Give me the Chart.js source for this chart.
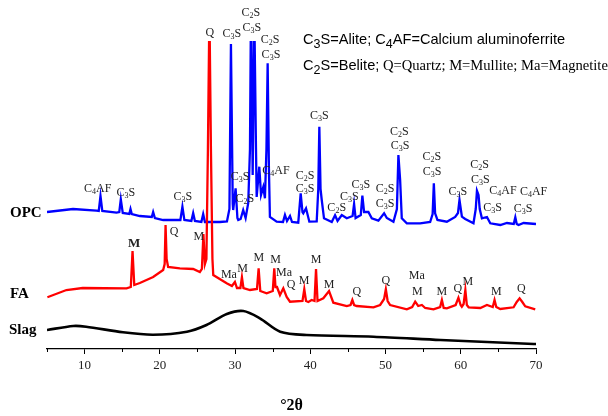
<!DOCTYPE html>
<html>
<head>
<meta charset="utf-8">
<script src="https://cdn.jsdelivr.net/npm/chart.js@4.4.0/dist/chart.umd.min.js"></script>
<style>
  body { margin: 0; background: #fff; }
  canvas { display: block; }
</style>
</head>
<body>
<canvas id="xrd" width="608" height="416"></canvas>
<script>
// 2theta positions (deg) and offset intensities
const opcX = [5.0, 8.46, 11.57, 11.88, 12.11, 12.35, 14.24, 14.61, 14.81, 15.07, 15.94, 16.1, 16.27, 17.34, 18.93, 19.11, 19.34, 20.44,
  22.73, 23.0, 23.26, 24.19, 24.43, 24.66, 25.52, 25.76, 25.99, 26.21, 27.98, 28.92, 29.25, 29.45, 29.69, 29.75, 30.07, 30.31, 30.42,
  30.74, 31.08, 31.4, 31.75, 31.98, 32.11, 32.34, 32.55, 32.78, 32.87, 33.22, 33.45, 33.75, 33.97, 34.17, 34.33, 34.5, 34.63, 35.53,
  36.37, 36.63, 36.9, 37.3, 37.57, 38.4, 38.72, 38.96, 39.07, 39.43, 39.87, 40.85, 41.06, 41.2, 41.36, 41.52, 41.82, 42.85, 43.29,
  43.62, 44.18, 44.85, 45.62, 45.82, 46.02, 46.71, 46.92, 47.15, 47.72, 48.17, 49.05, 49.81, 50.17, 51.05, 51.51, 51.71, 51.94,
  52.16, 52.83, 54.6, 55.93, 56.26, 56.42, 56.59, 56.9, 58.15, 59.26, 59.63, 59.83, 60.15, 60.59, 61.69, 61.99, 62.15, 62.36, 62.52,
  62.81, 63.48, 63.92, 65.25, 66.14, 67.04, 67.25, 67.44, 67.68, 68.35, 70.0];
const opcY = [137, 140, 138.3, 138, 153, 138, 136.3, 137, 149.7, 136, 135, 140, 135, 133, 132, 137, 131, 129,
  129, 142.3, 129, 128, 136, 128, 127, 135, 127, 127, 127, 127.5, 140, 305, 145, 139, 160.7, 131, 129,
  130, 139, 131, 146, 200, 340, 174, 340, 200, 152, 182.3, 154, 162, 150.7, 200, 285.7, 180, 132, 127.3,
  127, 134, 128, 133, 127, 126.3, 155.7, 137, 135.7, 140.7, 127.3, 127.5, 160, 222.3, 160, 149, 130.7, 127, 133.7,
  128, 134, 130.7, 133, 145, 131, 134, 153.3, 137, 137, 130.7, 128.3, 135.7, 131, 127.3, 140, 194, 169,
  130.7, 125.7, 125.7, 127, 135, 165.7, 135.7, 129, 127.3, 132, 136, 149, 132.3, 130, 125.7, 140, 158.3, 154, 140,
  130.7, 132, 125.7, 124, 126, 125, 131.7, 125, 124, 126, 125];

const faX = [5.05, 7.58, 9.75, 15.57, 16.14, 16.37, 16.6, 17.34, 19.11, 20.44, 20.64, 20.76, 20.9, 21.1, 22.66, 24.43, 25.32, 25.59,
  25.79, 25.99, 26.19, 26.39, 26.59, 26.79, 26.99, 27.1, 28.88, 29.58, 29.98, 30.25, 30.71, 30.91, 31.11, 31.98, 32.91, 33.13, 33.35,
  34.2, 35.01, 35.21, 35.37, 35.57, 35.97, 36.41, 36.86, 37.3, 38.96, 39.2, 39.43, 39.74, 40.18, 40.56, 40.76, 40.96, 41.73, 42.49,
  43.06, 44.85, 45.35, 45.59, 45.82, 46.17, 48.39, 49.28, 49.81, 50.04, 50.28, 50.61, 52.83, 53.54, 53.94, 54.34, 54.83, 55.27,
  56.37, 57.26, 57.49, 57.73, 58.15, 59.32, 59.69, 59.98, 60.14, 60.38, 60.61, 60.81, 61.05, 62.6, 63.48, 64.25, 64.49, 64.72,
  65.25, 67.02, 67.44, 67.82, 68.18, 68.57, 69.9];
const faY = [51.7, 59, 61, 60.7, 62, 98, 64, 66, 72, 79, 85, 124, 90, 82, 80.7, 80, 77, 80,
  115, 85, 90, 200, 340, 200, 90, 74, 65.7, 63, 67, 61, 61, 71.7, 61, 59, 60, 80.7, 58,
  55.7, 58, 80.7, 62, 62, 54, 60.7, 52, 47.3, 48, 59.7, 48, 47, 49, 48, 80, 48, 50.7, 58,
  46.3, 43, 44, 49, 44, 43, 41.7, 44, 50, 59.7, 48, 44, 39.7, 42, 47.3, 43, 44, 41,
  39.7, 42, 49, 41, 40.7, 44, 51.3, 44, 42.3, 45, 59, 44, 41.7, 41, 44, 42, 49, 42,
  40, 41.7, 47, 50.7, 47, 42.7, 39.7];

const slagX = [5.0, 8.5, 10.2, 15.1, 19.1, 23.6, 26.2, 28.9, 31.1, 33.3, 36.0, 39.5, 48.4, 57.3, 69.7, 70.0];
const slagY = [19, 23, 22.3, 16.7, 14.3, 17.3, 24, 35, 38, 30.7, 17.3, 14, 12.3, 9, 5, 5];

// peak labels: text, 2theta, height
const opcLabels = ['Q', 'C3S', 'C2S', 'C3S', 'C2S', 'C3S', 'C3S', 'C2S', 'C4AF', 'C4AF', 'C3S', 'C3S', 'C2S', 'C3S', 'C3S',
  'C2S', 'C3S', 'C3S', 'C2S', 'C3S', 'C2S', 'C3S', 'C2S', 'C3S', 'C3S', 'C2S', 'C3S', 'C4AF', 'C3S', 'C4AF', 'C3S'];
const opcLabelX = [26.65, 29.58, 32.11, 32.24, 34.64, 34.77, 30.65, 31.31, 35.44, 11.75, 15.48, 23.06, 39.3, 39.3, 41.2,
  43.51, 45.19, 46.71, 49.94, 49.94, 51.85, 51.94, 56.16, 56.2, 59.62, 62.49, 62.59, 65.61, 64.22, 69.68, 68.27];
const opcLabelY = [316, 315, 336, 321, 309, 294, 172, 150, 178, 160, 156, 152, 173.3, 160, 233.3,
  141.3, 152.3, 164, 159.7, 145, 217.3, 203, 192.3, 177, 157.3, 184, 169, 158.3, 140.7, 156.7, 139.7];

const faLabels = ['M', 'Q', 'M', 'Ma', 'M', 'M', 'M', 'Ma', 'Q', 'M', 'M', 'M', 'Q', 'Q', 'Ma', 'M', 'M', 'Q', 'M', 'M', 'Q'];
const faLabelX = [16.58, 21.9, 25.19, 29.18, 31.0, 33.17, 35.4, 36.5, 37.43, 39.16, 40.76, 42.49, 46.18, 50.04, 54.16,
  54.24, 57.49, 59.62, 60.95, 64.72, 68.05];
const faLabelY = [105.7, 116.7, 112.3, 74, 79.7, 90.7, 89, 76.3, 63.7, 68, 89, 64, 56.7, 68.3, 73, 56.7, 56.7, 59.7, 66.7, 56.7, 59.7];

const seriesNames = ['OPC', 'FA', 'Slag'];

function pts(xs, ys) {
  return xs.map((x, i) => ({ x: x, y: ys[i] }));
}

// text where digits are drawn as subscripts
function richWidth(ctx, text, font, subFont) {
  let w = 0;
  for (const ch of text) {
    ctx.font = /[0-9]/.test(ch) ? subFont : font;
    w += ctx.measureText(ch).width;
  }
  return w;
}
function drawRich(ctx, text, x, y, font, subFont, subShift, align) {
  let cx = align === 'center' ? x - richWidth(ctx, text, font, subFont) / 2 : x;
  ctx.textAlign = 'left';
  ctx.textBaseline = 'middle';
  for (const ch of text) {
    const sub = /[0-9]/.test(ch);
    ctx.font = sub ? subFont : font;
    ctx.fillText(ch, cx, sub ? y + subShift : y);
    cx += ctx.measureText(ch).width;
  }
  return cx;
}

const annotate = {
  id: 'annotate',
  afterDraw(chart) {
    const ctx = chart.ctx;
    const xs = chart.scales.x, ys = chart.scales.y;
    ctx.save();

    // minor ticks
    ctx.strokeStyle = '#000';
    ctx.lineWidth = 1;
    for (let v = 5; v < 70; v += 10) {
      const px = Math.round(xs.getPixelForValue(v)) + 0.5;
      ctx.beginPath();
      ctx.moveTo(px, ys.bottom);
      ctx.lineTo(px, ys.bottom + 3);
      ctx.stroke();
    }

    ctx.fillStyle = '#222';
    const f = '12px "Liberation Serif"', sf = '8px "Liberation Serif"';
    opcLabels.forEach((t, i) => {
      drawRich(ctx, t, xs.getPixelForValue(opcLabelX[i]), ys.getPixelForValue(opcLabelY[i]), f, sf, 3, 'center');
    });
    faLabels.forEach((t, i) => {
      const fnt = i === 0 ? 'bold 13px "Liberation Serif"' : f;
      drawRich(ctx, t, xs.getPixelForValue(faLabelX[i]), ys.getPixelForValue(faLabelY[i]), fnt, sf, 3, 'center');
    });

    // series names
    ctx.fillStyle = '#000';
    ctx.font = 'bold 15px "Liberation Serif"';
    ctx.textAlign = 'left';
    ctx.textBaseline = 'middle';
    ctx.fillText(seriesNames[0], 10, 213);
    ctx.fillText(seriesNames[1], 10, 294);
    ctx.fillText(seriesNames[2], 9, 330);

    // key
    const sans = '14.6px "Liberation Sans"', sansSub = '12.5px "Liberation Sans"';
    drawRich(ctx, 'C3S=Alite; C4AF=Calcium aluminoferrite', 303, 40, sans, sansSub, 5, 'left');
    const end = drawRich(ctx, 'C2S=Belite;', 303, 66, sans, sansSub, 5, 'left');
    ctx.font = '14.6px "Liberation Serif"';
    ctx.fillText(' Q=Quartz; M=Mullite; Ma=Magnetite', end, 66);
    ctx.restore();
  }
};

new Chart(document.getElementById('xrd').getContext('2d'), {
  type: 'line',
  data: {
    datasets: [
      { label: 'FA', data: pts(faX, faY), borderColor: '#ff0000', borderWidth: 2.3, order: 0 },
      { label: 'OPC', data: pts(opcX, opcY), borderColor: '#0000ff', borderWidth: 2.3, order: 1 },
      { label: 'Slag', data: pts(slagX, slagY), borderColor: '#000000', borderWidth: 2.6, order: 2, tension: 0.3 }
    ]
  },
  options: {
    responsive: false,
    animation: false,
    devicePixelRatio: 1,
    parsing: false,
    elements: { point: { radius: 0 }, line: { tension: 0 } },
    layout: { padding: { left: 47, right: 72, top: 41, bottom: 0 } },
    plugins: { legend: { display: false }, tooltip: { enabled: false } },
    scales: {
      x: {
        type: 'linear',
        min: 5,
        max: 70,
        afterFit: (s) => { s.height = 67; },
        ticks: {
          stepSize: 5,
          autoSkip: false,
          maxRotation: 0,
          padding: 4,
          color: '#222',
          font: { family: 'Liberation Serif', size: 13 },
          callback: (v) => (v % 10 === 0 ? v : '')
        },
        grid: {
          drawOnChartArea: false,
          tickLength: 5,
          tickColor: (c) => (c.tick && c.tick.value % 10 === 0 ? '#000' : 'rgba(0,0,0,0)')
        },
        border: { color: '#000', width: 1.3 },
        title: {
          display: true,
          text: '°2θ',
          color: '#000',
          padding: { top: 0, bottom: 1 },
          font: { family: 'Liberation Serif', size: 16, weight: 'bold' }
        }
      },
      y: { display: false, min: 0, max: 308 }
    }
  },
  plugins: [annotate]
});
</script>
</body>
</html>
